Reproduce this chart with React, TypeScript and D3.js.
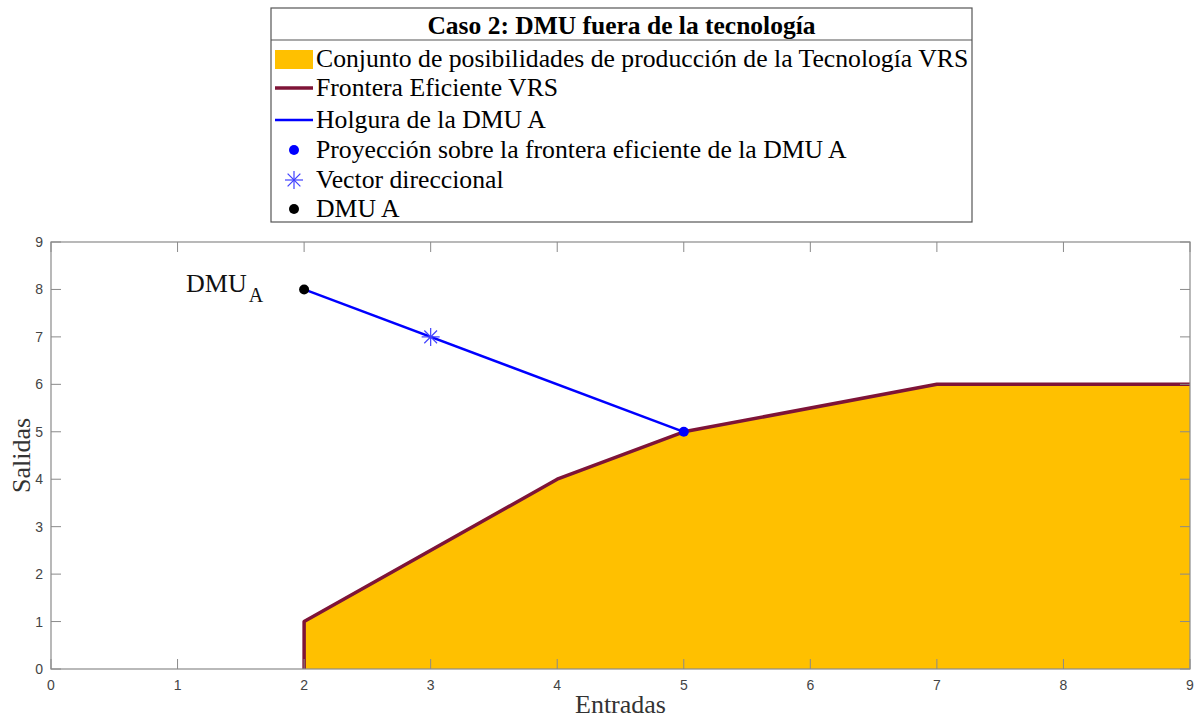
import React from 'react';
import * as d3 from 'd3';

// frontier vertices (Entradas, Salidas)
const frontierX = [2, 2, 4, 5, 7, 9];
const frontierY = [0, 1, 4, 5, 6, 6];
// slack line of DMU A
const slackX = [2, 5];
const slackY = [8, 5];
const dmuA = [2, 8];
const projection = [5, 5];
const direction = [3, 7];
const xTicks = [0, 1, 2, 3, 4, 5, 6, 7, 8, 9];
const yTicks = [0, 1, 2, 3, 4, 5, 6, 7, 8, 9];
const legendLabels = [
  'Conjunto de posibilidades de producción de la Tecnología VRS',
  'Frontera Eficiente VRS',
  'Holgura de la DMU A',
  'Proyección sobre la frontera eficiente de la DMU A',
  'Vector direccional',
  'DMU A',
];

const W = 1198;
const H = 720;
const m = { left: 51, right: 1190, top: 242, bottom: 669 };
const fill = '#ffc000';
const maroon = '#7e1437';
const blue = '#0000ff';
const axisCol = '#8a8a8a';
const tickText = '#444';
const serif = '"Liberation Serif", "Times New Roman", serif';
const sans = '"Liberation Sans", Arial, sans-serif';

function Star({ cx, cy, r, color }: { cx: number; cy: number; r: number; color: string }) {
  const d = r * Math.SQRT1_2;
  return (
    <g stroke={color} strokeWidth={1.2}>
      <line x1={cx - r} y1={cy} x2={cx + r} y2={cy} />
      <line x1={cx} y1={cy - r} x2={cx} y2={cy + r} />
      <line x1={cx - d} y1={cy - d} x2={cx + d} y2={cy + d} />
      <line x1={cx - d} y1={cy + d} x2={cx + d} y2={cy - d} />
    </g>
  );
}

export default function App() {
  const x = d3.scaleLinear().domain([0, 9]).range([m.left, m.right]);
  const y = d3.scaleLinear().domain([0, 9]).range([m.bottom, m.top]);

  const pts: [number, number][] = frontierX.map((v, i) => [v, frontierY[i]]);
  const line = d3
    .line<[number, number]>()
    .x((d) => x(d[0]))
    .y((d) => y(d[1]));
  const area = d3
    .area<[number, number]>()
    .x((d) => x(d[0]))
    .y0(y(0))
    .y1((d) => y(d[1]));
  const slack: [number, number][] = slackX.map((v, i) => [v, slackY[i]]);

  // legend geometry
  const lg = { x: 271, y: 8, w: 701, h: 214, titleH: 32 };
  const rowY = [59, 88, 120, 150, 180, 209];
  const iconX0 = 275;
  const iconX1 = 313;
  const iconC = (iconX0 + iconX1) / 2;
  const textX = 316;
  const tick = 10;

  return (
    <svg
      width={W}
      height={H}
      style={{ position: 'absolute', left: 0, top: 0, background: '#fff' }}
    >
      {/* plot */}
      <path d={area(pts) ?? ''} fill={fill} />
      <path d={line(pts) ?? ''} fill="none" stroke={maroon} strokeWidth={3.5} strokeLinejoin="round" />
      <path d={line(slack) ?? ''} fill="none" stroke={blue} strokeWidth={2.4} />
      <Star cx={x(direction[0])} cy={y(direction[1])} r={9} color="#4040ff" />
      <circle cx={x(projection[0])} cy={y(projection[1])} r={5} fill={blue} />
      <circle cx={x(dmuA[0])} cy={y(dmuA[1])} r={5} fill="#000" />
      <text x={186} y={292} fontFamily={serif} fontSize={26} fill="#111">
        DMU
        <tspan dx={2} dy={10} fontSize={20}>A</tspan>
      </text>

      {/* axes box */}
      <rect
        x={m.left}
        y={m.top}
        width={m.right - m.left}
        height={m.bottom - m.top}
        fill="none"
        stroke={axisCol}
        strokeWidth={1.2}
      />
      {xTicks.map((t) => (
        <g key={'x' + t}>
          <line x1={x(t)} x2={x(t)} y1={m.bottom} y2={m.bottom - tick} stroke={axisCol} />
          <line x1={x(t)} x2={x(t)} y1={m.top} y2={m.top + tick} stroke={axisCol} />
          <text x={x(t)} y={m.bottom + 21} textAnchor="middle" fontFamily={sans} fontSize={14} fill={tickText}>
            {t}
          </text>
        </g>
      ))}
      {yTicks.map((t) => (
        <g key={'y' + t}>
          <line x1={m.left} x2={m.left + tick} y1={y(t)} y2={y(t)} stroke={axisCol} />
          <line x1={m.right} x2={m.right - tick} y1={y(t)} y2={y(t)} stroke={axisCol} />
          <text x={m.left - 8} y={y(t) + 5} textAnchor="end" fontFamily={sans} fontSize={14} fill={tickText}>
            {t}
          </text>
        </g>
      ))}
      <text x={(m.left + m.right) / 2} y={713} textAnchor="middle" fontFamily={serif} fontSize={26} fill="#333">
        Entradas
      </text>
      <text
        transform={`translate(30, ${(m.top + m.bottom) / 2}) rotate(-90)`}
        textAnchor="middle"
        fontFamily={serif}
        fontSize={26}
        fill="#333"
      >
        Salidas
      </text>

      {/* legend */}
      <rect x={lg.x} y={lg.y} width={lg.w} height={lg.h} fill="#fff" stroke="#555" strokeWidth={1.2} />
      <line x1={lg.x} x2={lg.x + lg.w} y1={lg.y + lg.titleH} y2={lg.y + lg.titleH} stroke="#555" strokeWidth={1.2} />
      <text
        x={lg.x + lg.w / 2}
        y={lg.y + 26}
        textAnchor="middle"
        fontFamily={serif}
        fontWeight="bold"
        fontSize={25.5}
        fill="#000"
      >
        Caso 2: DMU fuera de la tecnología
      </text>
      <rect x={iconX0} y={rowY[0] - 9} width={iconX1 - iconX0} height={19} fill={fill} />
      <line x1={iconX0} x2={iconX1} y1={rowY[1]} y2={rowY[1]} stroke={maroon} strokeWidth={3.5} />
      <line x1={iconX0} x2={iconX1} y1={rowY[2]} y2={rowY[2]} stroke={blue} strokeWidth={2.4} />
      <circle cx={iconC} cy={rowY[3]} r={5} fill={blue} />
      <Star cx={iconC} cy={rowY[4]} r={9} color="#4040ff" />
      <circle cx={iconC} cy={rowY[5]} r={5} fill="#000" />
      {legendLabels.map((s, i) => (
        <text key={s} x={textX} y={rowY[i] + 8} fontFamily={serif} fontSize={25.7} fill="#000">
          {s}
        </text>
      ))}
    </svg>
  );
}
